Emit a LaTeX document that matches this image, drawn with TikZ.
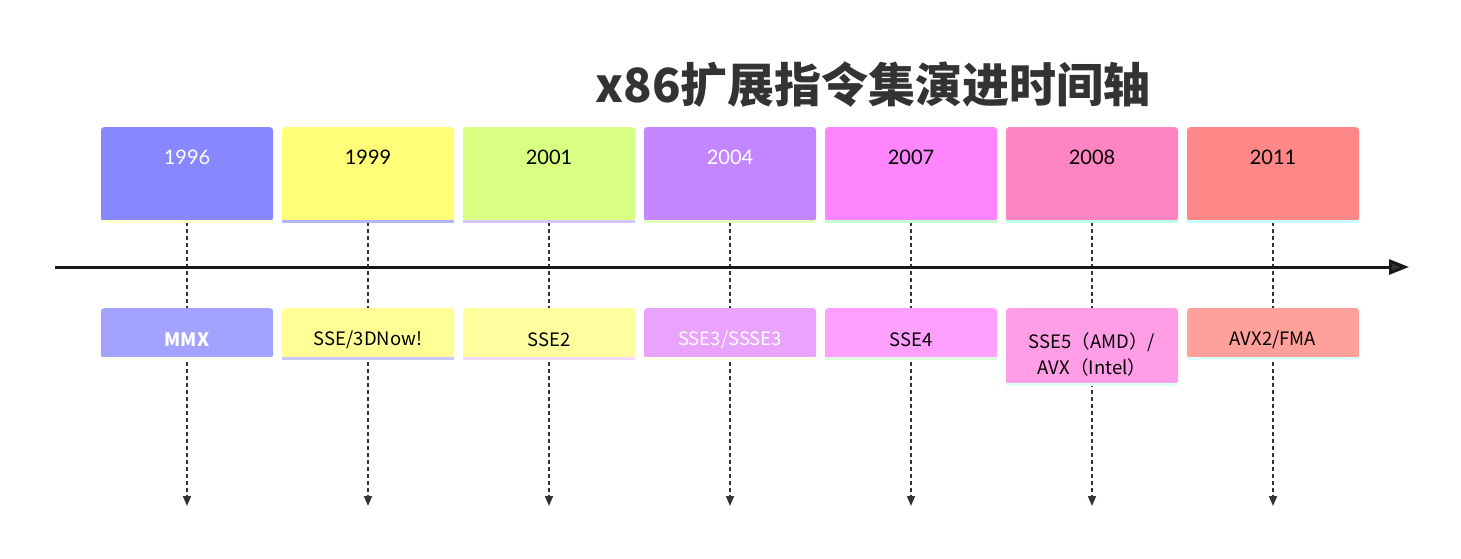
\documentclass[tikz,border=0pt]{standalone}
\usepackage{fontspec}
\setmainfont{Lato}
\newfontfamily\cjk{Noto Sans CJK SC}
\usetikzlibrary{arrows.meta}
\definecolor{hA}{HTML}{8787FF}\definecolor{eA}{HTML}{A3A3FF}
\definecolor{hB}{HTML}{FFFF78}\definecolor{eB}{HTML}{FFFF96}
\definecolor{hC}{HTML}{D9FF82}\definecolor{eC}{HTML}{FFFFA0}
\definecolor{hD}{HTML}{C386FF}\definecolor{eD}{HTML}{EAA3FC}
\definecolor{hE}{HTML}{FF85FF}\definecolor{eE}{HTML}{FFA0FF}
\definecolor{hF}{HTML}{FF85C2}\definecolor{eF}{HTML}{FF9EE6}
\definecolor{hG}{HTML}{FF8787}\definecolor{eG}{HTML}{FFA09A}
\definecolor{sA}{HTML}{FFFFC8}\definecolor{sB}{HTML}{B4B4FF}
\definecolor{sC}{HTML}{D4C4FF}\definecolor{sD}{HTML}{E0FFC0}
\definecolor{sE}{HTML}{C8FFD0}\definecolor{sF}{HTML}{C0FFE8}
\definecolor{sG}{HTML}{C8FFFF}
\definecolor{tA}{HTML}{FFFFF0}\definecolor{tB}{HTML}{C8C8FF}
\definecolor{tC}{HTML}{F5D8FF}\definecolor{tD}{HTML}{FFFFE8}
\definecolor{tE}{HTML}{E0FFE0}\definecolor{tF}{HTML}{E0FFF8}
\definecolor{tG}{HTML}{E0FFFF}
\definecolor{ink}{HTML}{333333}
\tikzset{
  hdrbox/.style={minimum width=172pt, minimum height=94pt, inner sep=0pt, rounded corners=3pt, anchor=north},
  evbox/.style={minimum width=172pt, inner sep=0pt, rounded corners=3pt, anchor=north},
  stripbox/.style={minimum width=172pt, minimum height=3pt, inner sep=0pt, anchor=north},
  yeartext/.style={font=\fontsize{20}{22}\selectfont, anchor=base},
  evtext/.style={font=\cjk\fontsize{18.5}{26}\selectfont, align=center},
  vconn/.style={draw=ink, line width=1.6pt, dash pattern=on 4pt off 3pt, -{Triangle[length=10pt,width=8pt]}},
}
\begin{document}
\begin{tikzpicture}[x=1pt,y=-1pt]
\useasboundingbox (0,0) rectangle (1461,559);
\fill[white] (0,0) rectangle (1461,559);
\node[font=\cjk\bfseries\fontsize{47}{50}\selectfont, text=ink] (title) at (873,85) {x86扩展指令集演进时间轴};
% vertical dashed connectors
\foreach \i/\x in {1/187,2/368,3/549,4/730,5/911,6/1092,7/1273}{
  \coordinate (top\i) at (\x,222);
  \coordinate (end\i) at (\x,506);
  \draw[vconn] (top\i) -- (end\i);
}
% main axis
\coordinate (axs) at (55,267);
\coordinate (axe) at (1409,267);
\draw[line width=3pt, draw=black!90, -{Triangle[length=20pt,width=15pt,fill=ink]}] (axs) -- (axe);
% header boxes
\foreach \i/\x/\h/\s/\yr/\tc in {1/187/hA/sA/1996/white,2/368/hB/sB/1999/black,3/549/hC/sC/2001/black,4/730/hD/sD/2004/white,5/911/hE/sE/2007/black,6/1092/hF/sF/2008/black,7/1273/hG/sG/2011/black}{
  \node[hdrbox, fill=\h] (h\i) at (\x,127) {};
  \node[stripbox, fill=\s] (hs\i) at (\x,220) {};
  \node[yeartext, text=\tc] (yr\i) at (\x,164.5) {\yr};
}
% event boxes
\foreach \i/\x/\e/\s/\tc/\ht in {1/187/eA/tA/white/50,2/368/eB/tB/black/50,3/549/eC/tC/black/50,4/730/eD/tD/white/50,5/911/eE/tE/black/50,7/1273/eG/tG/black/50}{
  \node[evbox, fill=\e, minimum height=\ht pt] (e\i) at (\x,308) {};
  \node[stripbox, fill=\s] (es\i) at (\x,357) {};
}
\node[evbox, fill=eF, minimum height=76pt] (e6) at (1092,308) {};
\node[stripbox, fill=tF] (es6) at (1092,383) {};
\node[evtext, text=white, font=\cjk\bfseries\fontsize{18.5}{26}\selectfont] (t1) at (187,339.5) {MMX};
\node[evtext] (t2) at (368,339.5) {SSE/3DNow!};
\node[evtext] (t3) at (549,339.5) {SSE2};
\node[evtext, text=white] (t4) at (730,339.5) {SSE3/SSSE3};
\node[evtext] (t5) at (911,339.5) {SSE4};
\node[evtext] (t6) at (1092,354) {SSE5（AMD）/\\AVX（Intel）};
\node[evtext] (t7) at (1273,339.5) {AVX2/FMA};
\end{tikzpicture}
\end{document}
